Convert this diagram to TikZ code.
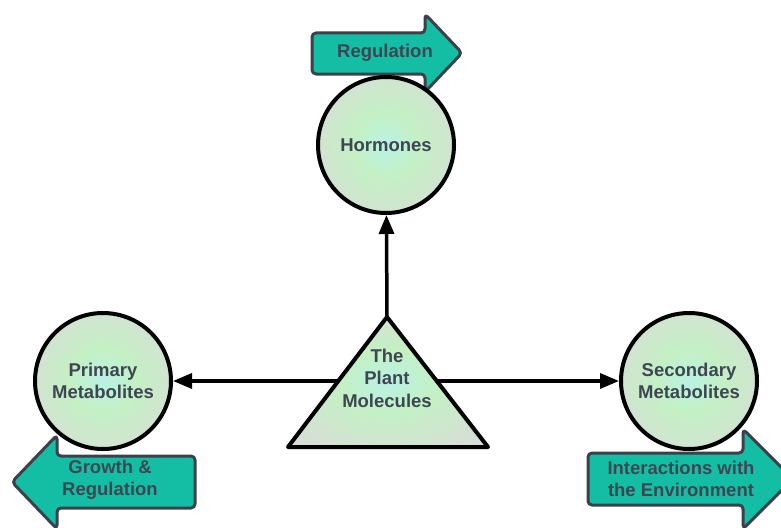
\documentclass[tikz,border=0pt]{standalone}
\usepackage{fontspec}
\setmainfont{Liberation Sans}
\usetikzlibrary{arrows.meta}
\definecolor{plantteal}{RGB}{20,190,165}
\definecolor{plantrim}{RGB}{60,64,72}
\definecolor{plantink}{RGB}{62,70,82}
\definecolor{glowcyan}{RGB}{185,242,228}
\definecolor{glowgreen}{RGB}{196,240,196}
\definecolor{glowgray}{RGB}{216,221,216}
\pgfdeclareradialshading{plantglow}{\pgfpoint{0bp}{0bp}}{color(0bp)=(glowcyan); color(12bp)=(glowgreen); color(32bp)=(glowgray); color(50bp)=(glowgray)}

\begin{document}
\begin{tikzpicture}[x=1pt,y=-1pt,
		every node/.style={font=\fontsize{18.5}{22.5}\selectfont\bfseries, text=plantink, align=center},
		molecule/.style={circle, draw=black, line width=4pt, shading=plantglow, minimum size=136pt, inner sep=0pt},
		banner/.style={fill=plantteal, draw=plantrim, line width=3pt, rounded corners=4pt, line join=round},
		link/.style={line width=3.5pt, -{Triangle[length=19pt,width=15pt]}}]
	\useasboundingbox (0,0) rectangle (781,527);
	\clip (0,0) rectangle (781,527);
	
	% banners
	\draw[banner] (312,33) -- (425,33) -- (425,14) -- (462,53) -- (425,92) -- (425,74) -- (312,74) -- cycle;
	\draw[banner] (195,456) -- (57,456) -- (57,435) -- (12,482) -- (57,529) -- (57,508) -- (195,508) -- cycle;
	\draw[banner] (588,453) -- (743,453) -- (743,429) -- (793,479) -- (743,529) -- (743,505) -- (588,505) -- cycle;
	\node (regulation) at (385,53) {Regulation};
	\node (growth) at (110,480) {Growth \&\\Regulation};
	\node (interactions) at (681,479) {Interactions with\\the Environment};
	
	% molecules
	\node[molecule] (hormones) at (386,145) {Hormones};
	\node[molecule] (primary) at (103,381) {Primary\\Metabolites};
	\node[molecule] (secondary) at (689,381) {Secondary\\Metabolites};
	
	\coordinate (apex) at (387,317);
	\coordinate (bl) at (288,447);
	\coordinate (br) at (488,447);
	\coordinate (leftside) at (338,381);
	\coordinate (rightside) at (437,381);
	
	\draw[link] (apex) -- (hormones);
	\draw[link] (leftside) -- (primary);
	\draw[link] (rightside) -- (secondary);
	
	\draw[line width=4pt, line join=round, shading=plantglow] (apex) -- (br) -- (bl) -- cycle;
	\node (plant) at (387,378) {The\\Plant\\Molecules};
\end{tikzpicture}
\end{document}
